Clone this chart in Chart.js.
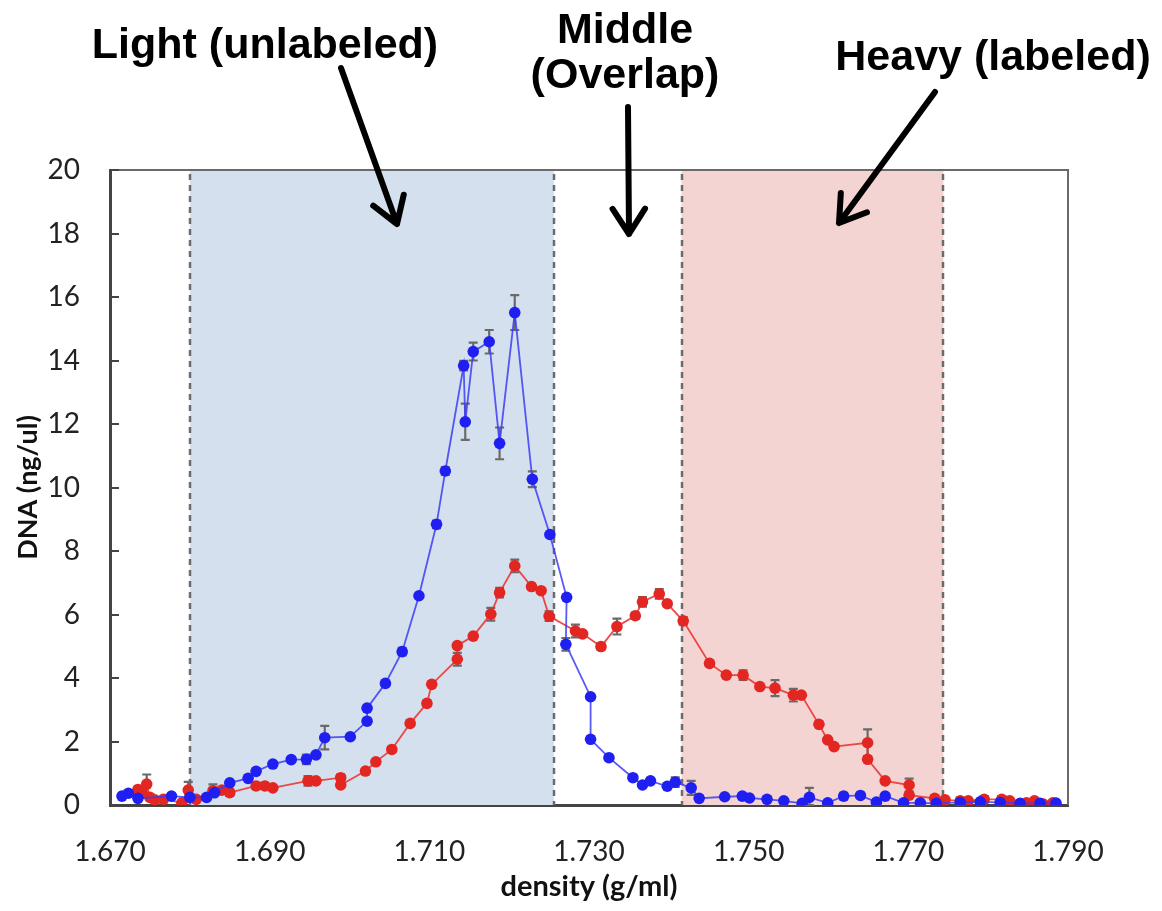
<!DOCTYPE html>
<html>
<head>
<meta charset="utf-8">
<script src="https://cdn.jsdelivr.net/npm/chart.js@4.4.1/dist/chart.umd.min.js"></script>
<style>
  body { margin: 0; background: #fff; }
  #wrap { width: 1162px; height: 911px; position: relative; }
</style>
</head>
<body>
<div id="wrap"><canvas id="dna-chart"></canvas></div>
<script>
// density (g/ml) and DNA (ng/ul)
const blueX = [1.6715, 1.6723, 1.6735, 1.6777, 1.6800, 1.6821, 1.6831, 1.6850, 1.6873, 1.6883,
  1.6904, 1.6927, 1.6946, 1.6958, 1.6969, 1.7001, 1.7022, 1.7022, 1.7045, 1.7066,
  1.7087, 1.7109, 1.7120, 1.7143, 1.7145, 1.7155, 1.7175, 1.7188, 1.7207, 1.7229,
  1.7251, 1.7272, 1.7271, 1.7302, 1.7302, 1.7325, 1.7355, 1.7367, 1.7377, 1.7398,
  1.7408, 1.7428, 1.7438, 1.7470, 1.7492, 1.7501, 1.7523, 1.7544, 1.7567, 1.7576,
  1.7599, 1.7619, 1.7640, 1.7660, 1.7671, 1.7694, 1.7715, 1.7735, 1.7765, 1.7790,
  1.7815, 1.7840, 1.7865, 1.7885];
const blueY = [0.28, 0.37, 0.21, 0.28, 0.24, 0.24, 0.39, 0.70, 0.84, 1.06,
  1.29, 1.43, 1.44, 1.58, 2.12, 2.15, 2.64, 3.05, 3.83, 4.83,
  6.59, 8.84, 10.52, 13.84, 12.07, 14.28, 14.59, 11.39, 15.51, 10.26,
  8.52, 6.54, 5.06, 3.41, 2.07, 1.49, 0.86, 0.63, 0.76, 0.59,
  0.72, 0.54, 0.21, 0.26, 0.28, 0.22, 0.18, 0.13, 0.05, 0.24,
  0.07, 0.28, 0.30, 0.09, 0.28, 0.07, 0.07, 0.05, 0.08, 0.10,
  0.08, 0.05, 0.05, 0.06];
const blueErr = [0, 0, 0, 0, 0, 0, 0, 0, 0, 0,
  0, 0, 0.15, 0, 0.37, 0, 0, 0, 0, 0.12,
  0, 0.12, 0.12, 0.15, 0.57, 0.28, 0.37, 0.5, 0.55, 0.25,
  0, 0, 0.2, 0, 0, 0, 0, 0, 0, 0,
  0.15, 0.22, 0, 0, 0.08, 0, 0, 0, 0, 0.3,
  0, 0.1, 0, 0, 0, 0, 0, 0, 0, 0,
  0, 0, 0, 0];

const redX = [1.6735, 1.6740, 1.6746, 1.6750, 1.6756, 1.6767, 1.6790, 1.6798, 1.6808, 1.6829,
  1.6840, 1.6850, 1.6883, 1.6894, 1.6904, 1.6948, 1.6958, 1.6989, 1.6989, 1.7020,
  1.7033, 1.7053, 1.7076, 1.7097, 1.7103, 1.7135, 1.7135, 1.7155, 1.7177, 1.7188,
  1.7207, 1.7228, 1.7240, 1.7250, 1.7283, 1.7292, 1.7315, 1.7335, 1.7358, 1.7367,
  1.7388, 1.7398, 1.7418, 1.7451, 1.7472, 1.7493, 1.7514, 1.7533, 1.7556, 1.7566,
  1.7588, 1.7599, 1.7607, 1.7649, 1.7649, 1.7671, 1.7701, 1.7701, 1.7733, 1.7746,
  1.7765, 1.7775, 1.7795, 1.7817, 1.7827, 1.7848, 1.7858, 1.7869, 1.7881];
const redY = [0.49, 0.37, 0.66, 0.24, 0.16, 0.18, 0.07, 0.47, 0.18, 0.45,
  0.47, 0.39, 0.60, 0.60, 0.54, 0.76, 0.76, 0.86, 0.63, 1.07,
  1.36, 1.75, 2.57, 3.20, 3.80, 4.59, 5.02, 5.32, 6.01, 6.69,
  7.53, 6.88, 6.75, 5.95, 5.48, 5.39, 4.99, 5.62, 5.96, 6.40,
  6.65, 6.34, 5.80, 4.46, 4.09, 4.09, 3.73, 3.68, 3.46, 3.46,
  2.54, 2.05, 1.84, 1.96, 1.44, 0.76, 0.63, 0.31, 0.21, 0.16,
  0.13, 0.13, 0.18, 0.18, 0.13, 0.07, 0.13, 0.03, 0.07];
const redErr = [0, 0, 0.3, 0, 0, 0, 0, 0.26, 0, 0.2,
  0, 0.1, 0.1, 0, 0, 0.15, 0, 0.1, 0, 0,
  0, 0, 0, 0, 0, 0.2, 0, 0, 0.2, 0.15,
  0.2, 0, 0, 0.15, 0.2, 0, 0.1, 0.25, 0.1, 0.15,
  0.15, 0, 0.12, 0, 0, 0.15, 0, 0.25, 0.2, 0,
  0, 0, 0, 0.42, 0, 0, 0.2, 0, 0, 0,
  0.1, 0, 0.1, 0.1, 0, 0, 0, 0, 0];

const xTicks = [1.670, 1.690, 1.710, 1.730, 1.750, 1.770, 1.790];
const lightBand = [1.6800, 1.7256];
const heavyBand = [1.7416, 1.7744];

function toPoints(xs, ys) {
  return xs.map((x, i) => ({ x: x, y: ys[i] }));
}

// shaded bands, dashed borders, frame and error bars behind the points
const backdropPlugin = {
  id: 'backdrop',
  beforeDatasetsDraw(chart) {
    const ctx = chart.ctx;
    const xs = chart.scales.x, ys = chart.scales.y;
    const top = chart.chartArea.top, bottom = chart.chartArea.bottom;
    const bands = [[lightBand, '#d5e0ee'], [heavyBand, '#f4d4d3']];
    ctx.save();
    bands.forEach(([b, c]) => {
      const x0 = xs.getPixelForValue(b[0]), x1 = xs.getPixelForValue(b[1]);
      ctx.fillStyle = c;
      ctx.fillRect(x0, top, x1 - x0, bottom - top);
    });
    ctx.strokeStyle = '#6b6b6b';
    ctx.lineWidth = 2.5;
    ctx.setLineDash([6, 5]);
    [lightBand[0], lightBand[1], heavyBand[0], heavyBand[1]].forEach(v => {
      const px = Math.round(xs.getPixelForValue(v));
      ctx.beginPath();
      ctx.moveTo(px, top + 4);
      ctx.lineTo(px, bottom);
      ctx.stroke();
    });
    ctx.setLineDash([]);

    // frame: top and right
    ctx.strokeStyle = '#6a6a6a';
    ctx.lineWidth = 2;
    ctx.beginPath();
    ctx.moveTo(chart.chartArea.left, top);
    ctx.lineTo(chart.chartArea.right, top);
    ctx.lineTo(chart.chartArea.right, bottom);
    ctx.stroke();

    // inner tick marks on the y axis
    ctx.strokeStyle = '#444';
    ctx.lineWidth = 2;
    ys.ticks.forEach(t => {
      const py = Math.round(ys.getPixelForValue(t.value));
      ctx.beginPath();
      ctx.moveTo(chart.chartArea.left, py);
      ctx.lineTo(chart.chartArea.left + 9, py);
      ctx.stroke();
    });

    // error bars
    ctx.strokeStyle = '#6a6a6a';
    ctx.lineWidth = 2.2;
    [[blueX, blueY, blueErr], [redX, redY, redErr]].forEach(([sx, sy, se]) => {
      sx.forEach((x, i) => {
        if (!se[i]) return;
        const px = xs.getPixelForValue(x);
        const yHi = ys.getPixelForValue(sy[i] + se[i]);
        const yLo = ys.getPixelForValue(Math.max(0, sy[i] - se[i]));
        ctx.beginPath();
        ctx.moveTo(px, yHi); ctx.lineTo(px, yLo);
        ctx.moveTo(px - 4.5, yHi); ctx.lineTo(px + 4.5, yHi);
        ctx.moveTo(px - 4.5, yLo); ctx.lineTo(px + 4.5, yLo);
        ctx.stroke();
      });
    });
    ctx.restore();
  }
};

// headings and arrows above the plot
const annotationPlugin = {
  id: 'headings',
  afterDraw(chart) {
    const ctx = chart.ctx;
    ctx.save();
    ctx.fillStyle = '#000';
    ctx.font = 'bold 43px "Liberation Sans", Arial, sans-serif';
    ctx.textAlign = 'center';
    ctx.textBaseline = 'alphabetic';
    ctx.fillText('Light (unlabeled)', 265, 58);
    ctx.fillText('Middle', 625, 43);
    ctx.fillText('(Overlap)', 625, 88);
    ctx.fillText('Heavy (labeled)', 993, 70);

    const arrows = [[341, 68, 397, 224], [628, 107, 629, 234], [935, 92, 839, 223]];
    ctx.strokeStyle = '#000';
    ctx.lineWidth = 6;
    ctx.lineCap = 'round';
    ctx.lineJoin = 'round';
    arrows.forEach(([x0, y0, x1, y1]) => {
      const a = Math.atan2(y1 - y0, x1 - x0);
      const len = 30, spread = Math.PI / 5.5;
      ctx.beginPath();
      ctx.moveTo(x0, y0);
      ctx.lineTo(x1, y1);
      ctx.moveTo(x1 - len * Math.cos(a - spread), y1 - len * Math.sin(a - spread));
      ctx.lineTo(x1, y1);
      ctx.lineTo(x1 - len * Math.cos(a + spread), y1 - len * Math.sin(a + spread));
      ctx.stroke();
    });
    ctx.restore();
  }
};

new Chart(document.getElementById('dna-chart'), {
  type: 'scatter',
  data: {
    datasets: [{
      label: 'unlabeled',
      data: toPoints(blueX, blueY),
      showLine: true,
      borderColor: 'rgba(60, 60, 245, 0.85)',
      borderWidth: 1.8,
      backgroundColor: '#1f1ff2',
      pointBackgroundColor: '#1f1ff2',
      pointBorderWidth: 0,
      pointRadius: 5.8
    }, {
      label: 'labeled',
      data: toPoints(redX, redY),
      showLine: true,
      borderColor: 'rgba(235, 45, 40, 0.85)',
      borderWidth: 1.8,
      backgroundColor: '#e32622',
      pointBackgroundColor: '#e32622',
      pointBorderWidth: 0,
      pointRadius: 5.8
    }]
  },
  options: {
    responsive: true,
    maintainAspectRatio: false,
    animation: false,
    layout: {
      padding: { top: 170, right: 94, left: 0, bottom: 0 }
    },
    plugins: {
      legend: { display: false },
      tooltip: { enabled: false }
    },
    scales: {
      x: {
        type: 'linear',
        min: 1.67,
        max: 1.79,
        afterBuildTicks: function(scale) {
          scale.ticks = xTicks.map(v => ({ value: v }));
        },
        afterFit: function(scale) {
          scale.height = 106;
        },
        grid: { display: false, drawTicks: false },
        border: { color: '#444', width: 3 },
        ticks: {
          color: '#222',
          padding: 30,
          maxRotation: 0,
          font: { family: 'Lato', size: 28 },
          callback: function(value) {
            return Number(value).toFixed(3);
          }
        },
        title: {
          display: true,
          text: 'density (g/ml)',
          color: '#111',
          font: { family: 'Lato', size: 29, weight: 'bold' },
          padding: { top: 0, bottom: 7 }
        }
      },
      y: {
        min: 0,
        max: 20,
        afterFit: function(scale) {
          scale.width = 110;
        },
        grid: { display: false, drawTicks: false },
        border: { color: '#444', width: 3 },
        ticks: {
          stepSize: 2,
          color: '#222',
          padding: 30,
          font: { family: 'Lato', size: 28 }
        },
        title: {
          display: true,
          text: 'DNA (ng/ul)',
          color: '#111',
          font: { family: 'Lato', size: 27, weight: 'bold' },
          padding: { top: 12, bottom: 0 }
        }
      }
    }
  },
  plugins: [backdropPlugin, annotationPlugin]
});
</script>
</body>
</html>
